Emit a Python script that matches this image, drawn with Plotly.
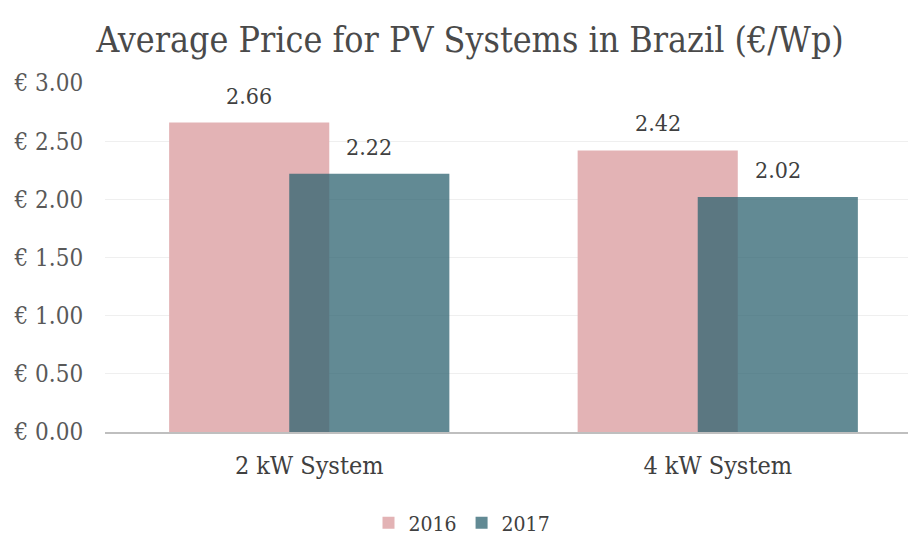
import plotly.graph_objects as go

categories = ["2 kW System", "4 kW System"]
series_names = ["2016", "2017"]
values_2016 = [2.66, 2.42]
values_2017 = [2.22, 2.02]
y_ticks = [0, 0.5, 1.0, 1.5, 2.0, 2.5, 3.0]
y_tick_labels = ["€ 0.00", "€ 0.50", "€ 1.00", "€ 1.50", "€ 2.00", "€ 2.50", "€ 3.00"]

FONT = "DejaVu Serif Condensed"
TXT = "#404040"

colors = ["rgba(227,179,181,1)", "rgba(46,99,112,0.75)"]
offsets = [-0.343, -0.049]
width = 0.392

fig = go.Figure()
for name, vals, col, off in zip(series_names, [values_2016, values_2017], colors, offsets):
    fig.add_trace(go.Bar(
        x=list(range(len(categories))), y=vals, name=name,
        marker=dict(color=col, line=dict(width=0)),
        offset=off, width=width,
    ))
    for i, v in enumerate(vals):
        fig.add_annotation(
            x=i + off + width / 2, y=v, text=f"{v:.2f}", showarrow=False,
            xref="x", yref="y", yanchor="bottom", yshift=12,
            font=dict(family=FONT, size=23, color=TXT),
        )

fig.update_layout(
    barmode="overlay",
    width=910, height=536,
    margin=dict(l=105, r=2, t=83, b=104),
    paper_bgcolor="white", plot_bgcolor="white",
    title=dict(text="Average Price for PV Systems in Brazil (€/Wp)",
               x=470 / 910, xanchor="center", y=1 - 40 / 536, yanchor="middle",
               font=dict(family=FONT, size=35.5, color="#4a4a4a")),
    font=dict(family=FONT, size=23, color=TXT),
    legend=dict(orientation="h", x=462 / 910, xref="container", xanchor="center",
                yref="container", y=1 - 523 / 536, yanchor="middle",
                font=dict(family=FONT, size=21, color=TXT),
                itemwidth=30, tracegroupgap=0),
    showlegend=True,
)
fig.update_xaxes(
    tickmode="array", tickvals=list(range(len(categories))), ticktext=categories,
    range=[-0.5, -0.5 + 803 / 408.5],
    showline=True, linecolor="#BFBFBF", linewidth=2,
    showgrid=False, zeroline=False,
    ticks="outside", ticklen=10, tickcolor="rgba(0,0,0,0)",
    tickfont=dict(family=FONT, size=25, color=TXT),
)
fig.update_yaxes(
    range=[0, 3.0], tickmode="array", tickvals=y_ticks, ticktext=y_tick_labels,
    showgrid=True, gridcolor="#EFEFEF", gridwidth=1,
    zeroline=False, showline=False,
    ticks="outside", ticklen=16, tickcolor="rgba(0,0,0,0)",
    tickfont=dict(family=FONT, size=24, color="#595959"),
)

fig.write_html("out.html", config={"displayModeBar": False},
               post_script="document.body.style.margin='0';document.body.style.overflow='hidden';")
